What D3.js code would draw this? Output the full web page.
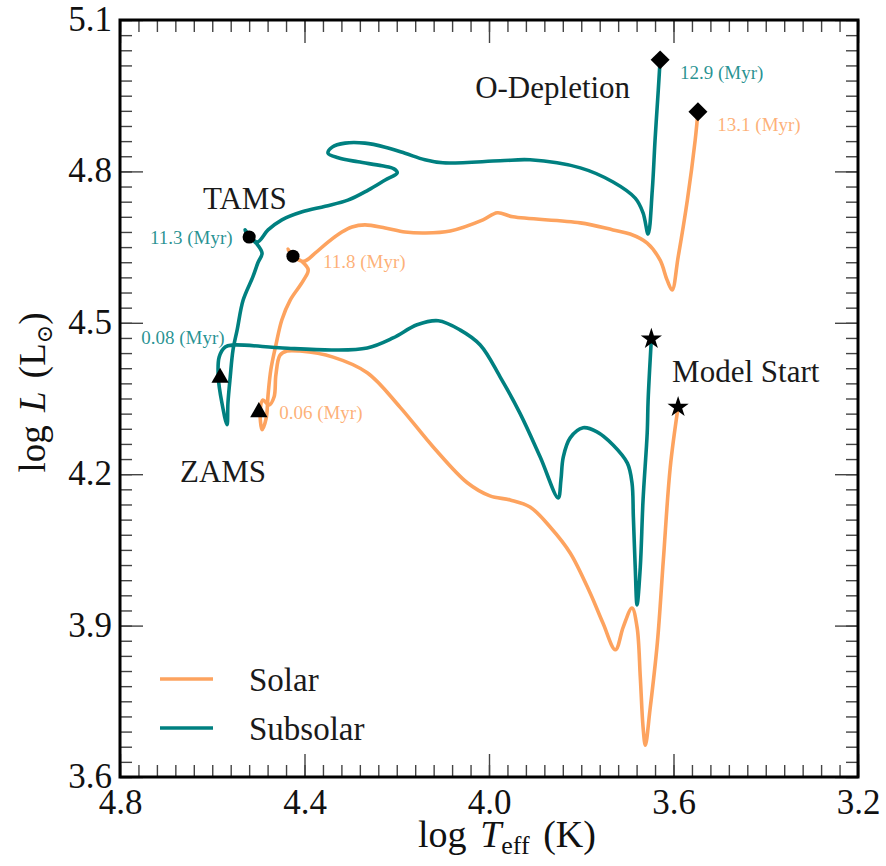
<!DOCTYPE html>
<html>
<head>
<meta charset="utf-8">
<script src="https://cdn.jsdelivr.net/npm/d3@7"></script>
<style>
  html, body { margin: 0; padding: 0; background: #ffffff; }
  svg text { font-family: "Liberation Serif", "DejaVu Serif", serif; }
</style>
</head>
<body>
<svg id="chart" width="886" height="866"></svg>
<script>
// ---- Evolutionary tracks (log Teff [K], log L [Lsun]) ----
const subsolarLogT = [3.648, 3.655, 3.657, 3.666, 3.672, 3.679, 3.683, 3.687, 3.690, 3.700,
  3.731, 3.766, 3.796, 3.824, 3.839, 3.844, 3.850, 3.889, 3.933, 3.976,
  4.019, 4.063, 4.110, 4.156, 4.208, 4.264, 4.338, 4.447, 4.555, 4.572,
  4.585, 4.587, 4.579, 4.568, 4.566, 4.561, 4.555, 4.546, 4.533, 4.512,
  4.501, 4.492, 4.503, 4.520, 4.529, 4.503, 4.479, 4.449, 4.405, 4.355,
  4.306, 4.262, 4.225, 4.199, 4.206, 4.232, 4.284, 4.327, 4.349, 4.340,
  4.312, 4.269, 4.225, 4.182, 4.139, 4.100, 3.976, 3.911, 3.802, 3.731,
  3.683, 3.666, 3.655, 3.646, 3.640, 3.633, 3.629];
const subsolarLogL = [4.468, 4.347, 4.282, 4.149, 4.016, 3.941, 4.016, 4.115, 4.183, 4.222,
  4.258, 4.284, 4.292, 4.272, 4.234, 4.189, 4.153, 4.234, 4.321, 4.393,
  4.456, 4.486, 4.504, 4.496, 4.470, 4.450, 4.446, 4.450, 4.456, 4.452,
  4.432, 4.393, 4.341, 4.298, 4.341, 4.393, 4.446, 4.486, 4.545, 4.591,
  4.619, 4.638, 4.656, 4.670, 4.684, 4.660, 4.684, 4.704, 4.720, 4.731,
  4.743, 4.763, 4.783, 4.797, 4.805, 4.811, 4.819, 4.827, 4.836, 4.848,
  4.856, 4.856, 4.848, 4.836, 4.823, 4.817, 4.821, 4.823, 4.807, 4.779,
  4.747, 4.718, 4.676, 4.763, 4.862, 4.961, 5.021];

const solarLogT = [3.590, 3.607, 3.622, 3.635, 3.651, 3.661, 3.666, 3.672, 3.679, 3.690,
  3.709, 3.726, 3.753, 3.781, 3.824, 3.867, 3.911, 3.954, 3.998, 4.047,
  4.121, 4.193, 4.264, 4.338, 4.410, 4.438, 4.453, 4.462, 4.466, 4.477,
  4.490, 4.496, 4.492, 4.483, 4.479, 4.473, 4.462, 4.449, 4.431, 4.403,
  4.392, 4.405, 4.425, 4.436, 4.423, 4.401, 4.377, 4.349, 4.319, 4.297,
  4.269, 4.225, 4.182, 4.139, 4.084, 4.013, 3.982, 3.948, 3.802, 3.731,
  3.694, 3.657, 3.629, 3.614, 3.603, 3.590, 3.570, 3.553, 3.547];
const solarLogL = [4.333, 4.214, 4.030, 3.866, 3.733, 3.663, 3.699, 3.798, 3.897, 3.935,
  3.897, 3.852, 3.905, 3.965, 4.044, 4.095, 4.135, 4.149, 4.157, 4.183,
  4.254, 4.333, 4.401, 4.432, 4.444, 4.444, 4.436, 4.397, 4.353, 4.337,
  4.347, 4.327, 4.288, 4.311, 4.357, 4.407, 4.456, 4.506, 4.545, 4.583,
  4.605, 4.621, 4.632, 4.646, 4.630, 4.622, 4.638, 4.660, 4.680, 4.690,
  4.694, 4.688, 4.680, 4.678, 4.682, 4.704, 4.718, 4.710, 4.698, 4.684,
  4.676, 4.658, 4.624, 4.585, 4.565, 4.630, 4.743, 4.862, 4.918];

// ---- Evolutionary stages: Model Start, ZAMS, TAMS, O-Depletion ----
const stageNames = ["Model Start", "ZAMS", "TAMS", "O-Depletion"];
const stageSymbols = ["star", "triangle", "circle", "diamond"];
const subsolarStageLogT = [3.648, 4.583, 4.520, 3.629];
const subsolarStageLogL = [4.468, 4.391, 4.670, 5.021];
const solarStageLogT = [3.590, 4.499, 4.425, 3.547];
const solarStageLogL = [4.333, 4.323, 4.632, 4.918];

// Ages at ZAMS, TAMS and O-Depletion (Myr)
const subsolarAges = ["0.08", "11.3", "12.9"];
const solarAges = ["0.06", "11.8", "13.1"];

// ---- Tick values ----
const xMajorTicks = [4.8, 4.4, 4.0, 3.6, 3.2];
const yMajorTicks = [3.6, 3.9, 4.2, 4.5, 4.8, 5.1];

// ---- Layout & style ----
const W = 886, H = 866;
const plot = { left: 120, right: 858, top: 20, bottom: 777 };
const colors = { solar: "#fda35f", subsolar: "#008080" };

const svg = d3.select("#chart");
svg.append("rect").attr("width", W).attr("height", H).attr("fill", "#fff");

const x = d3.scaleLinear().domain([4.8, 3.2]).range([plot.left, plot.right]);
const y = d3.scaleLinear().domain([3.6, 5.1]).range([plot.bottom, plot.top]);

// Minor ticks every 0.04 in log Teff and 0.03 in log L
const xMinorTicks = d3.range(0, 41).map(i => +(4.8 - i * 0.04).toFixed(2));
const yMinorTicks = d3.range(0, 51).map(i => +(3.6 + i * 0.03).toFixed(2));

const fmt = d3.format(".1f");
const majorLen = 23, minorLen = 12;

function axisFactory(axisFn, scale) {
  return vals => axisFn(scale).tickValues(vals);
}

// Inward-pointing ticks on all four sides; labels only on bottom and left
function drawAxis(gen, transform, major, minor, labels, pad) {
  const gMinor = svg.append("g").attr("transform", transform)
    .call(gen(minor).tickSizeInner(-minorLen).tickSizeOuter(0).tickFormat(""));
  const gMajor = svg.append("g").attr("transform", transform)
    .call(gen(major).tickSizeInner(-majorLen).tickSizeOuter(0)
      .tickPadding(labels ? pad : 0).tickFormat(labels ? fmt : ""));
  [gMinor, gMajor].forEach(g => {
    g.select(".domain").remove();
    g.selectAll(".tick line").attr("stroke", "#444").attr("stroke-width", 1.4);
  });
  gMajor.selectAll(".tick text")
    .attr("fill", "#111")
    .style("font-family", "'Liberation Serif', serif")
    .style("font-size", "35px");
  return gMajor;
}

drawAxis(axisFactory(d3.axisBottom, x), `translate(0,${plot.bottom})`, xMajorTicks, xMinorTicks, true, 12);
drawAxis(axisFactory(d3.axisTop, x), `translate(0,${plot.top})`, xMajorTicks, xMinorTicks, false, 0);
const leftG = drawAxis(axisFactory(d3.axisLeft, y), `translate(${plot.left},0)`, yMajorTicks, yMinorTicks, true, 8);
drawAxis(axisFactory(d3.axisRight, y), `translate(${plot.right},0)`, yMajorTicks, yMinorTicks, false, 0);
leftG.selectAll(".tick text").attr("dy", "0.30em");

// ---- Tracks ----
const line = d3.line()
  .x(d => x(d[0])).y(d => y(d[1]))
  .curve(d3.curveCatmullRom.alpha(0.5));

const solarTrack = solarLogT.map((t, i) => [t, solarLogL[i]]);
const subsolarTrack = subsolarLogT.map((t, i) => [t, subsolarLogL[i]]);

const tracks = svg.append("g");
tracks.append("path").datum(solarTrack)
  .attr("d", line).attr("fill", "none")
  .attr("stroke", colors.solar).attr("stroke-width", 3.6)
  .attr("stroke-linejoin", "round").attr("stroke-linecap", "round");
tracks.append("path").datum(subsolarTrack)
  .attr("d", line).attr("fill", "none")
  .attr("stroke", colors.subsolar).attr("stroke-width", 3.6)
  .attr("stroke-linejoin", "round").attr("stroke-linecap", "round");

// ---- Stage markers ----
const symbolOf = {
  star: d3.symbol().type(d3.symbolStar).size(140),
  triangle: d3.symbol().type(d3.symbolTriangle).size(130),
  circle: d3.symbol().type(d3.symbolCircle).size(135),
  diamond: d3.symbol().type(d3.symbolSquare).size(180)
};
const markers = svg.append("g");
[[solarStageLogT, solarStageLogL], [subsolarStageLogT, subsolarStageLogL]].forEach(([ts, ls]) => {
  ts.forEach((t, i) => {
    const kind = stageSymbols[i];
    markers.append("path")
      .attr("d", symbolOf[kind]())
      .attr("transform", `translate(${x(t)},${y(ls[i])})` + (kind === "diamond" ? " rotate(45)" : ""))
      .attr("fill", "#000");
  });
});

// ---- Stage names (log Teff, log L of the text start) ----
const stageLabelLogT = [3.603, 4.670, 4.620, 4.030];
const stageLabelLogL = [4.383, 4.185, 4.726, 4.945];
stageNames.forEach((name, i) => {
  svg.append("text")
    .attr("x", x(stageLabelLogT[i])).attr("y", y(stageLabelLogL[i]))
    .attr("fill", "#1a1a1a")
    .style("font-size", "31px")
    .text(name);
});

// ---- Age labels ----
const subsolarAgeLogT = [4.754, 4.735, 3.586];
const subsolarAgeLogL = [4.458, 4.656, 4.983];
const solarAgeLogT = [4.455, 4.360, 3.505];
const solarAgeLogL = [4.309, 4.609, 4.880];
function ageLabels(ages, ts, ls, color) {
  ages.forEach((a, i) => {
    svg.append("text")
      .attr("x", x(ts[i])).attr("y", y(ls[i]))
      .attr("fill", color).attr("fill-opacity", 0.85)
      .style("font-size", "19px")
      .text(`${a} (Myr)`);
  });
}
ageLabels(subsolarAges, subsolarAgeLogT, subsolarAgeLogL, colors.subsolar);
ageLabels(solarAges, solarAgeLogT, solarAgeLogL, colors.solar);

// ---- Legend ----
const legendItems = [["Solar", colors.solar], ["Subsolar", colors.subsolar]];
const legend = svg.append("g");
legendItems.forEach(([name, c], i) => {
  const yy = 679 + i * 49;
  legend.append("line").attr("x1", 160).attr("x2", 213).attr("y1", yy).attr("y2", yy)
    .attr("stroke", c).attr("stroke-width", 3.6);
  legend.append("text").attr("x", 249).attr("y", yy + 12)
    .attr("fill", "#1a1a1a").style("font-size", "33px").text(name);
});

// ---- Frame ----
svg.append("rect")
  .attr("x", plot.left).attr("y", plot.top)
  .attr("width", plot.right - plot.left).attr("height", plot.bottom - plot.top)
  .attr("fill", "none").attr("stroke", "#000").attr("stroke-width", 3);

// ---- Axis titles ----
const xTitle = svg.append("text")
  .attr("x", 507).attr("y", 847)
  .attr("text-anchor", "middle").attr("fill", "#111")
  .style("font-size", "38px").style("word-spacing", "4px");
xTitle.append("tspan").text("log ");
xTitle.append("tspan").style("font-style", "italic").text("T");
xTitle.append("tspan").attr("dy", 7).style("font-size", "26px").text("eff");
xTitle.append("tspan").attr("dy", -7).text(" (K)");

const yTitle = svg.append("text")
  .attr("transform", `translate(45,${(plot.top + plot.bottom) / 2 - 6}) rotate(-90)`)
  .attr("text-anchor", "middle").attr("fill", "#111")
  .style("font-size", "37px").style("word-spacing", "4px");
yTitle.append("tspan").text("log ");
yTitle.append("tspan").style("font-style", "italic").text("L");
yTitle.append("tspan").text(" (L");
yTitle.append("tspan").attr("dy", 7).style("font-size", "22px")
  .style("font-family", "'DejaVu Serif', serif").text("⊙");
yTitle.append("tspan").attr("dy", -7).text(")");
</script>
</body>
</html>
